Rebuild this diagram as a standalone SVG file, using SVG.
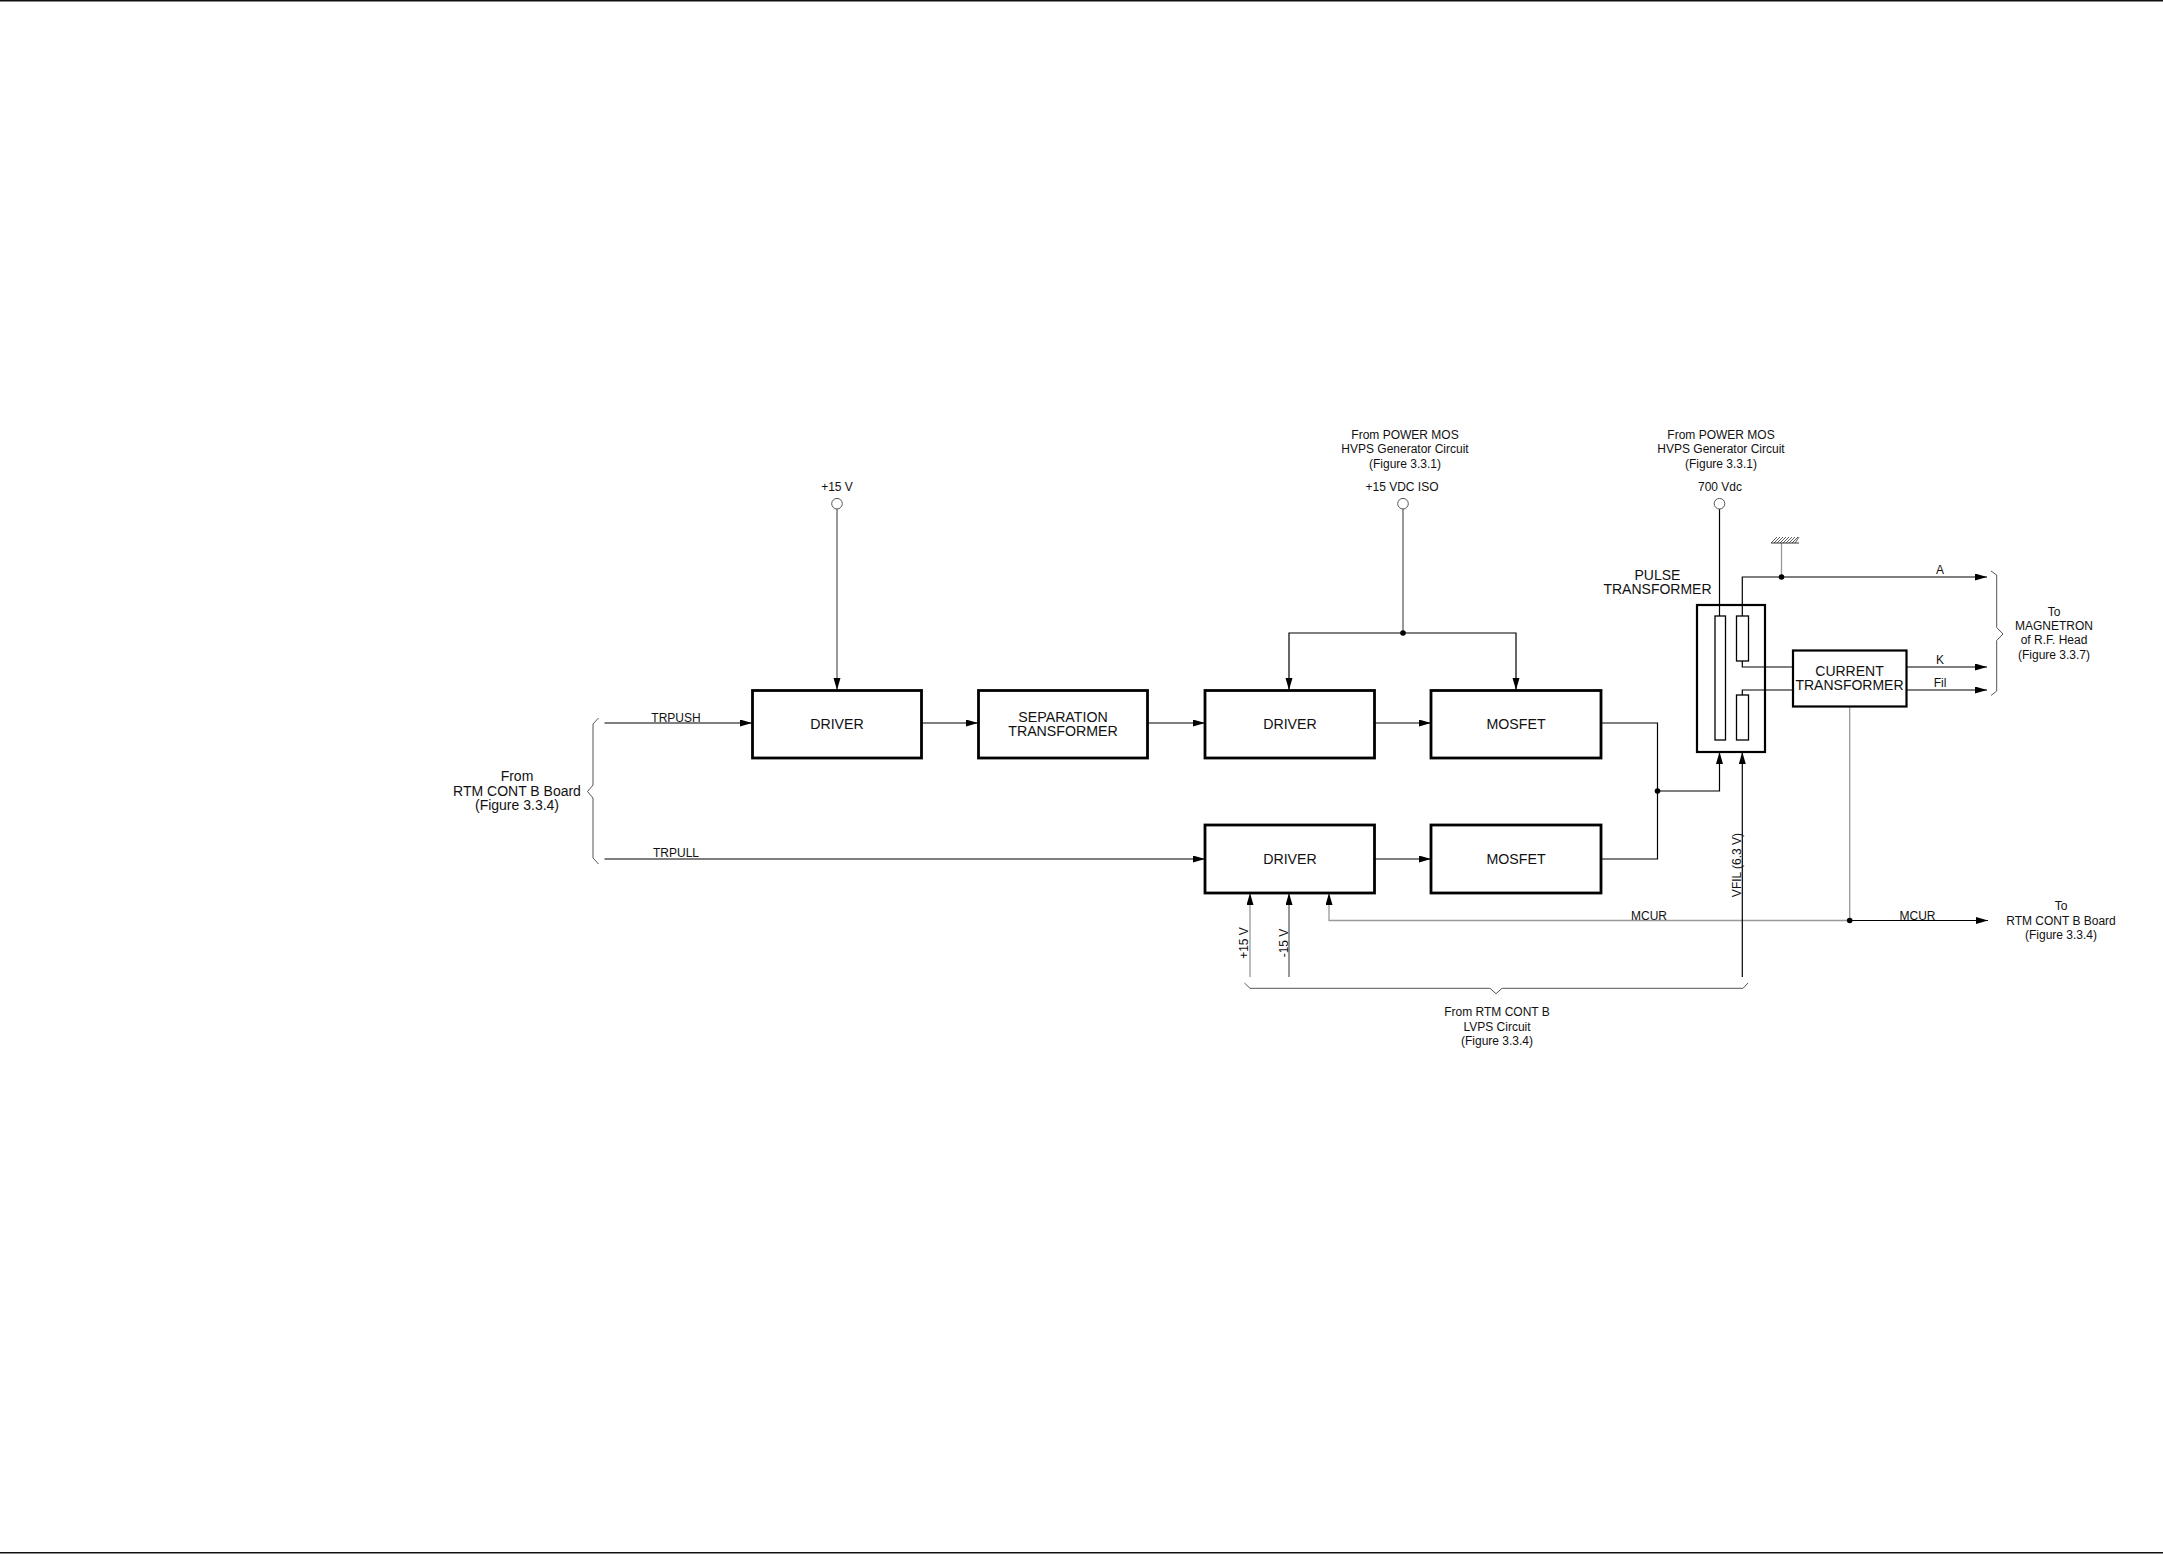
<svg xmlns="http://www.w3.org/2000/svg" width="2163" height="1554" viewBox="0 0 2163 1554">
<style>
text{font-family:"Liberation Sans",Arial,sans-serif;fill:#111;text-anchor:middle;dominant-baseline:central}
.b{font-size:14.2px}.s{font-size:12px}.l{font-size:14px}
.box{fill:#fff;stroke:#000;stroke-width:2.8}
.box2{fill:#fff;stroke:#000;stroke-width:2.2}
.coil{fill:#fff;stroke:#000;stroke-width:1.3}
.c{fill:none;stroke:#000;stroke-width:1.2}
.t{fill:none;stroke:#333;stroke-width:1}
.g{fill:none;stroke:#999;stroke-width:1.3}
.a{marker-end:url(#arr)}
.port{fill:#fff;stroke:#555;stroke-width:1}
.brace{fill:none;stroke:#555;stroke-width:1}
</style>
<defs>
<marker id="arr" markerUnits="userSpaceOnUse" markerWidth="13" markerHeight="8" refX="12" refY="3.5" orient="auto"><path d="M0 0L12 3.5L0 7Z" fill="#000"/></marker>
</defs>
<rect width="2163" height="1554" fill="#fff"/>
<g id="frame"><line x1="0" y1="0.7" x2="2163" y2="0.7" stroke="#111" stroke-width="1.4"/><line x1="0" y1="1552.7" x2="2163" y2="1552.7" stroke="#111" stroke-width="1.4"/></g>
<g id="pulse-transformer"><rect class="box2" x="1697" y="605" width="68" height="147"/>
<rect class="coil" x="1715" y="616" width="10.5" height="124"/>
<rect class="coil" x="1736.5" y="616" width="12" height="45"/>
<rect class="coil" x="1736.5" y="695" width="12" height="45"/>
<text class="l" x="1657.5" y="574.5">PULSE</text><text class="l" x="1657.5" y="588.5">TRANSFORMER</text></g>
<g id="connectors">
<path class="c a" d="M604.5 723H752"/>
<path class="c a" d="M922 723H978"/>
<path class="c a" d="M1148 723H1205"/>
<path class="c a" d="M1375 723H1431"/>
<path class="t a" d="M837 509V690"/>
<path class="t" d="M1403 509V633"/>
<path class="c a" d="M1403 633H1289V690"/>
<path class="c a" d="M1403 633H1516V690"/>
<path class="c" d="M1601 723H1657.5V859H1601"/>
<path class="c a" d="M1657.5 791H1719.5V752"/>
<path class="c a" d="M604.5 859H1205"/>
<path class="c a" d="M1375 859H1431"/>
<path class="g a" d="M1250 977V893"/>
<path class="t a" d="M1289 977V893"/>
<path class="g a" d="M1849.7 920.5H1329V893"/>
<path class="c a" d="M1742.3 977V752"/>
<path class="c" d="M1719.5 509V616"/>
<path class="c" d="M1742.3 616V577H1781"/>
<path class="c a" d="M1781 577H1987"/>
<path class="g" d="M1781.5 543V577"/>
<path class="c" d="M1742.3 661V667H1792.5"/>
<path class="c" d="M1742.3 695V690H1792.5"/>
<path class="c a" d="M1906.5 667H1987"/>
<path class="c a" d="M1906.5 690H1987"/>
<path class="g" d="M1849.7 707V920.5"/>
<path class="c a" d="M1849.7 920.5H1988"/>
<circle cx="1403" cy="633" r="2.8"/>
<circle cx="1657.5" cy="791" r="2.8"/>
<circle cx="1781.5" cy="577" r="2.8"/>
<circle cx="1849.7" cy="920.5" r="2.8"/>
</g>
<g id="driver-push"><rect class="box" x="752.5" y="690.5" width="169" height="67.5"/><text class="b" x="837" y="723.5">DRIVER</text></g>
<g id="separation-transformer"><rect class="box" x="978.5" y="690.5" width="169" height="67.5"/><text class="b" x="1063" y="716.5">SEPARATION</text><text class="b" x="1063" y="730.5">TRANSFORMER</text></g>
<g id="driver-2"><rect class="box" x="1205" y="690.5" width="169.5" height="67.5"/><text class="b" x="1290" y="723.5">DRIVER</text></g>
<g id="mosfet-1"><rect class="box" x="1431" y="690.5" width="170" height="67.5"/><text class="b" x="1516" y="723.5">MOSFET</text></g>
<g id="driver-pull"><rect class="box" x="1205" y="825" width="169.5" height="68"/><text class="b" x="1290" y="858.5">DRIVER</text></g>
<g id="mosfet-2"><rect class="box" x="1431" y="825" width="170" height="68"/><text class="b" x="1516" y="858.5">MOSFET</text></g>
<g id="current-transformer"><rect class="box2" x="1793" y="650.5" width="113.5" height="56"/><text class="l" x="1849.5" y="671">CURRENT</text><text class="l" x="1849.5" y="685">TRANSFORMER</text></g>
<g id="ground"><line x1="1771" y1="543" x2="1799" y2="543" stroke="#333" stroke-width="1"/><path d="M1771 543l6-6M1774 543l6-6M1777 543l6-6M1780 543l6-6M1783 543l6-6M1786 543l6-6M1789 543l6-6M1792 543l6-6M1795 543l4-6" stroke="#333" stroke-width="0.8" fill="none"/></g>
<g id="port-15v"><circle class="port" cx="837" cy="503.7" r="5.3"/><text class="s" x="837" y="487">+15 V</text></g>
<g id="port-15vdc-iso"><circle class="port" cx="1403" cy="503.7" r="5.3"/><text class="s" x="1405" y="434.5">From POWER MOS</text><text class="s" x="1405" y="449">HVPS Generator Circuit</text><text class="s" x="1405" y="463.5">(Figure 3.3.1)</text><text class="s" x="1402" y="487">+15 VDC ISO</text></g>
<g id="port-700v"><circle class="port" cx="1719.5" cy="503.7" r="5.3"/><text class="s" x="1721" y="434.5">From POWER MOS</text><text class="s" x="1721" y="449">HVPS Generator Circuit</text><text class="s" x="1721" y="463.5">(Figure 3.3.1)</text><text class="s" x="1720" y="487">700 Vdc</text></g>
<g id="source-rtm"><path class="brace" d="M598.5 718L593 724V785L587.5 791.5L593 798V858L598.5 864"/><text class="l" x="517" y="776">From</text><text class="l" x="517" y="790.5">RTM CONT B Board</text><text class="l" x="517" y="805">(Figure 3.3.4)</text></g>
<g id="target-magnetron"><path class="brace" d="M1991 571L1996.7 575V627.5L2003 634L1996.7 640.5V691L1991 695.5"/><text class="s" x="2054" y="611.5">To</text><text class="s" x="2054" y="625.5">MAGNETRON</text><text class="s" x="2054" y="640">of R.F. Head</text><text class="s" x="2054" y="654.5">(Figure 3.3.7)</text></g>
<g id="target-rtm"><text class="s" x="2061" y="906">To</text><text class="s" x="2061" y="920.5">RTM CONT B Board</text><text class="s" x="2061" y="935">(Figure 3.3.4)</text></g>
<g id="source-lvps"><path class="brace" d="M1244.5 983L1250 988.3H1490L1496 993.7L1502 988.3H1743L1748 983"/><text class="s" x="1497" y="1012">From RTM CONT B</text><text class="s" x="1497" y="1026.5">LVPS Circuit</text><text class="s" x="1497" y="1041">(Figure 3.3.4)</text></g>
<g id="labels">
<text class="s" x="676" y="717.5">TRPUSH</text><text class="s" x="676" y="852.5">TRPULL</text>
<text class="s" x="1940" y="570">A</text><text class="s" x="1940" y="660">K</text><text class="s" x="1940" y="682.5">Fil</text>
<text class="s" x="1649" y="915.5">MCUR</text><text class="s" x="1917.5" y="915.5">MCUR</text>
<text class="s" transform="translate(1244 943) rotate(-90)">+15 V</text>
<text class="s" transform="translate(1283.5 943) rotate(-90)">-15 V</text>
<text class="s" transform="translate(1736.5 865) rotate(-90)">VFIL (6.3 V)</text>
</g>
</svg>
